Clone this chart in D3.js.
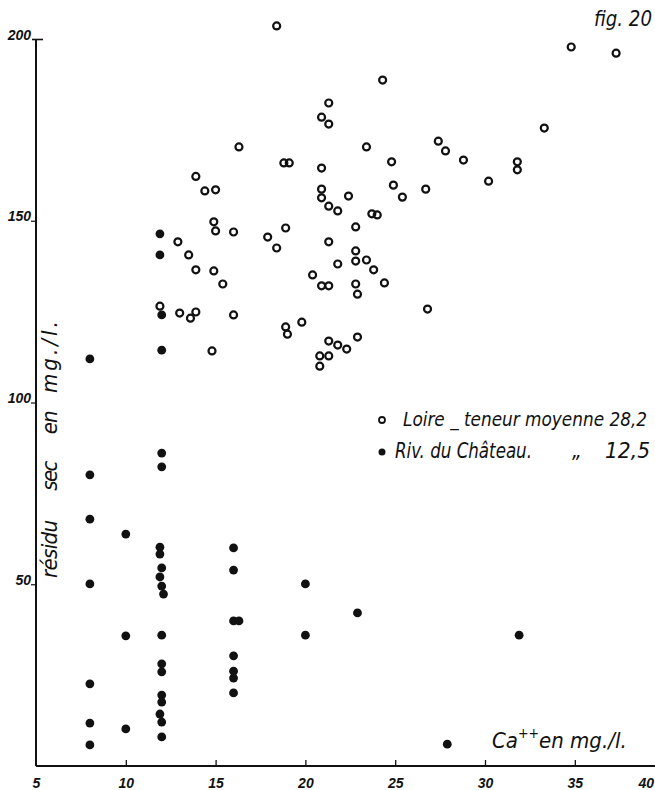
<!DOCTYPE html>
<html><head><meta charset="utf-8">
<script src="https://cdn.jsdelivr.net/npm/d3@7"></script>
<style>
html,body{margin:0;padding:0;background:#fff;}
svg{display:block;}
.hand{font-family:"DejaVu Sans Condensed","Liberation Sans Narrow","Liberation Sans",sans-serif;font-style:italic;fill:#111;}
.tick text{font-family:"Liberation Sans","DejaVu Sans",sans-serif;font-style:italic;font-weight:bold;fill:#111;}
</style></head>
<body>
<svg id="chart" width="655" height="790"></svg>
<script>
// Loire (open circles): Ca++ (mg/l) and résidu sec (mg/l)
const loireCa = [18.4,34.8,37.3,24.3,21.3,20.9,21.3,33.3,27.4,27.8,16.3,23.4,18.8,19.1,20.9,28.8,24.8,31.8,31.8,13.9,
  30.2,24.9,14.4,15.0,20.9,20.9,26.7,25.4,22.4,21.3,21.8,23.7,24.0,14.9,15.0,16.0,18.9,17.9,18.4,22.8,
  12.9,21.3,13.5,22.8,22.8,21.8,23.4,23.8,20.4,13.9,14.9,15.4,20.9,21.3,22.8,22.9,24.4,11.9,13.0,13.6,
  13.9,16.0,26.8,19.8,18.9,19.0,22.9,21.3,21.8,22.3,14.8,20.8,21.3,20.8];
const loireResidu = [203.6,197.8,196.1,188.7,182.4,178.5,176.6,175.5,171.9,169.2,170.3,170.3,165.9,165.9,164.5,166.7,166.2,166.2,164.0,162.2,
  160.9,159.8,158.2,158.5,158.7,156.3,158.7,156.5,156.8,154.0,152.7,151.9,151.6,149.7,147.2,146.9,148.0,145.5,142.5,148.3,
  144.2,144.2,140.6,141.7,138.9,138.1,139.2,136.5,135.1,136.5,136.2,132.6,132.1,132.1,132.6,129.8,132.9,126.5,124.6,123.2,
  124.9,124.1,125.7,122.1,120.8,118.8,118.0,116.9,115.8,114.7,114.2,112.8,112.8,110.0];
// Rivière du Château (filled dots)
const chateauCa = [8,8,8,8,8,8,8, 10,10,10,
  11.9,11.9,12,12,12,12,11.9,11.9,12,11.9,12,12.1,12,12,12,12,12,11.9,12,12,
  16,16,16,16,16,16,16,16.3, 20,20, 22.9, 27.9, 31.9];
const chateauResidu = [112.0,80.1,67.9,50.1,22.6,11.8,5.8, 63.8,35.8,10.2,
  146.4,140.6,124.1,114.4,86.1,82.3,60.2,58.3,54.5,52.0,49.5,47.3,36.0,28.1,25.9,19.5,17.6,14.3,12.1,8.0,
  60.0,53.9,39.9,30.3,26.1,24.2,20.1,39.9, 50.1,36.0, 42.1, 6.0, 36.0];
const xTicks = [5,10,15,20,25,30,35,40];
const yTicks = [50,100,150,200];
const yTitleWords = ["résidu","sec","en","mg./l."];
const legendItems = [
  {label:"Loire _ teneur moyenne 28,2", filled:false},
  {label:"Riv. du Château.", ditto:"„", value:"12,5", filled:true}
];

const svg = d3.select("#chart");
const x = d3.scaleLinear().domain([5,40]).range([36,664.6]);
const y = d3.scaleLinear().domain([0,200]).range([766,39]);
const ink = "#111";

// X axis
const xAxis = svg.append("g").attr("transform",`translate(0,${y(0)})`)
  .call(d3.axisBottom(x).tickValues(xTicks).tickSize(-6).tickPadding(0).tickFormat(d3.format("d")));
xAxis.select(".domain").remove();
xAxis.selectAll(".tick line").attr("stroke",ink).attr("stroke-width",1.3);
xAxis.selectAll(".tick text").style("font-size","14px").attr("dy","1.55em");
xAxis.selectAll(".tick").filter(d=>d===40).select("text").attr("text-anchor","end").attr("dx",-11);
xAxis.selectAll(".tick").filter(d=>d===5).select("line").remove();
svg.append("line").attr("x1",x(5)).attr("x2",655).attr("y1",y(0)).attr("y2",y(0))
  .attr("stroke",ink).attr("stroke-width",2);

// Y axis
const yAxis = svg.append("g").attr("transform",`translate(${x(5)},0)`)
  .call(d3.axisLeft(y).tickValues(yTicks).tickSize(5).tickPadding(0).tickFormat(d3.format("d")));
yAxis.select(".domain").remove();
yAxis.selectAll(".tick line").attr("stroke",ink).attr("stroke-width",1.2);
yAxis.selectAll(".tick text").style("font-size","14px").attr("dy","0");
yAxis.selectAll(".tick").filter(d=>d===200).select("line").attr("x1",-4).attr("x2",7).attr("stroke-width",1.6);
svg.append("line").attr("x1",x(5)).attr("x2",x(5)).attr("y1",y(200)).attr("y2",y(0))
  .attr("stroke",ink).attr("stroke-width",2);

// Points
const loire = loireCa.map((c,i)=>({c, r:loireResidu[i]}));
const chateau = chateauCa.map((c,i)=>({c, r:chateauResidu[i]}));
svg.append("g").selectAll("circle").data(loire).join("circle")
  .attr("cx",d=>x(d.c)).attr("cy",d=>y(d.r)).attr("r",3.5)
  .attr("fill","none").attr("stroke",ink).attr("stroke-width",2.2);
svg.append("g").selectAll("circle").data(chateau).join("circle")
  .attr("cx",d=>x(d.c)).attr("cy",d=>y(d.r)).attr("r",4.4).attr("fill",ink);

// Y axis title (words spread like the hand lettering)
const yt = svg.append("text").attr("class","hand")
  .attr("transform",`translate(57,578) rotate(-90)`).attr("font-size",22);
const wordGaps = [0,30,28,18];
const wordLens = [58,30,24,72];
yTitleWords.forEach((w,i)=>{
  yt.append("tspan").attr("dx",wordGaps[i]).attr("textLength",wordLens[i]).attr("lengthAdjust","spacing").text(w);
});
const xt = svg.append("text").attr("class","hand").attr("x",492).attr("y",748).attr("font-size",22);
xt.append("tspan").text("Ca");
xt.append("tspan").attr("font-size",14).attr("dy",-10).text("++");
xt.append("tspan").attr("dy",10).text("en mg./l.");

// Title
svg.append("text").attr("class","hand").attr("x",594).attr("y",26).attr("font-size",21)
  .attr("textLength",58).attr("lengthAdjust","spacingAndGlyphs").text("fig. 20");

// Legend
const lg = svg.append("g");
const ly = [420,452];
legendItems.forEach((it,i)=>{
  const g = lg.append("g").attr("transform",`translate(382,${ly[i]})`);
  if(it.filled) g.append("circle").attr("r",3.5).attr("fill",ink);
  else g.append("circle").attr("r",3).attr("fill","none").attr("stroke",ink).attr("stroke-width",1.8);
  g.append("text").attr("class","hand").attr("x",it.filled?13:21).attr("y",6).attr("font-size",it.filled?21:19)
    .attr("textLength",it.filled?137:244).attr("lengthAdjust","spacingAndGlyphs").text(it.label);
  if(it.ditto){
    g.append("text").attr("class","hand").attr("x",190).attr("y",6).attr("font-size",21).text(it.ditto);
    g.append("text").attr("class","hand").attr("x",223).attr("y",6).attr("font-size",21)
      .attr("textLength",45).attr("lengthAdjust","spacingAndGlyphs").text(it.value);
  }
});
</script>
</body></html>
